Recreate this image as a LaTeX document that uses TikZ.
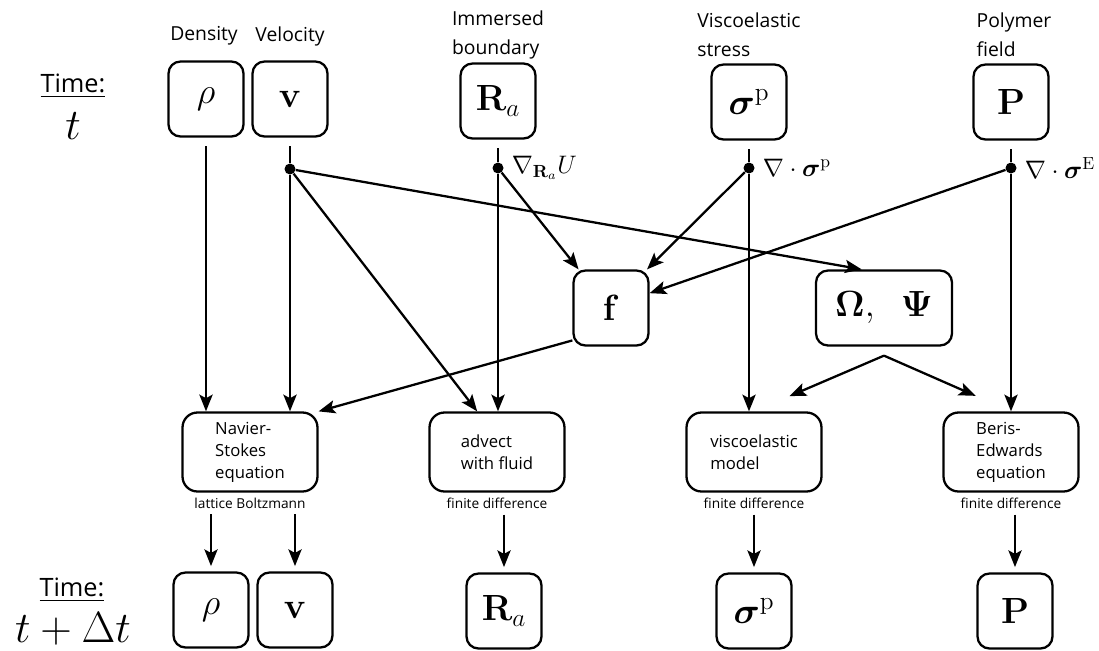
\documentclass[tikz,border=0pt]{standalone}
\usepackage{amsmath}
\usepackage[no-math]{fontspec}
\setsansfont{Open Sans}
\usetikzlibrary{arrows.meta, calc, positioning}

\tikzset{
  varbox/.style={draw, line width=1.3pt, rounded corners=0.24cm, minimum width=1.5cm, minimum height=1.5cm, font=\huge},
  eqbox/.style={draw, line width=1.3pt, rounded corners=0.3cm, minimum width=2.7cm, minimum height=1.58cm,
    font=\sffamily\fontsize{9.5}{12.5}\selectfont, align=left},
  methlbl/.style={font=\sffamily\fontsize{7.8}{8}\selectfont, inner sep=0pt},
  headlbl/.style={font=\sffamily\fontsize{11}{16.5}\selectfont, align=left},
  gradlbl/.style={font=\fontsize{14}{16}\selectfont},
  junc/.style={circle, fill, inner sep=0pt, minimum size=0.22cm},
  link/.style={line width=1.3pt},
  arr/.style={link, -{Stealth[length=9.5pt,width=7.5pt,inset=2pt]}},
}

\begin{document}
\begin{tikzpicture}[x=0.02cm,y=-0.02cm]
    \useasboundingbox (0,0) rectangle (1099,650);
    % time labels
    \node[font=\sffamily\Large] (timeT) at (73,86) {\underline{Time:}};
    \node[font=\Huge] (tT) at (73,126) {$t$};
    \node[font=\sffamily\Large] (timeB) at (72,590) {\underline{Time:}};
    \node[font=\Huge] (tB) at (73,629) {$t+\Delta t$};
    % quantities at time t
    \node[varbox] (rhoT) at (206,99) {$\rho$};
    \node[varbox] (vT) at (290,99) {$\mathbf{v}$};
    \node[varbox] (RT) at (498,101) {$\mathbf{R}_a$};
    \node[varbox] (sT) at (749,102) {$\boldsymbol{\sigma}^{\mathrm{p}}$};
    \node[varbox] (PT) at (1011,102) {$\mathbf{P}$};
    \node[headlbl] (lblRho) at (204,36) {Density};
    \node[headlbl] (lblV) at (290,36) {Velocity};
    \node[headlbl] (lblR) at (498,35) {Immersed\\boundary};
    \node[headlbl] (lblS) at (749,35) {Viscoelastic\\stress};
    \node[headlbl] (lblP) at (1014,35) {Polymer\\field};
    % branching points
    \node[junc] (jv) at (290,169) {};
    \node[junc] (jR) at (498,168) {};
    \node[junc] (js) at (749,168) {};
    \node[junc] (jP) at (1011,168) {};
    \node[gradlbl, right=1pt of jR] (gR) {$\nabla_{\mathbf{R}_a} U$};
    \node[gradlbl, right=1pt of js] (gS) {$\nabla\cdot\boldsymbol{\sigma}^{\mathrm{p}}$};
    \node[gradlbl, right=1pt of jP] (gP) {$\nabla\cdot\boldsymbol{\sigma}^{\mathrm{E}}$};
    % intermediate quantities
    \node[varbox] (f) at (611,308) {$\mathbf{f}$};
    \node[varbox, minimum width=2.72cm] (omg) at (884,308) {$\mathbf{\Omega},\;\;\mathbf{\Psi}$};
    % update steps
    \node[eqbox] (ns) at (250,452) {Navier-\\Stokes\\equation};
    \node[eqbox] (adv) at (497,452) {advect\\with fluid};
    \node[eqbox] (vis) at (754,452) {viscoelastic\\model};
    \node[eqbox] (ber) at (1011,452) {Beris-\\Edwards\\equation};
    \node[methlbl, below=3pt of ns] (lbns) {lattice Boltzmann};
    \node[methlbl, below=3pt of adv] (lbadv) {finite difference};
    \node[methlbl, below=3pt of vis] (lbvis) {finite difference};
    \node[methlbl, below=3pt of ber] (lbber) {finite difference};
    % quantities at time t + dt
    \node[varbox] (rhoB) at (211,610) {$\rho$};
    \node[varbox] (vB) at (295,610) {$\mathbf{v}$};
    \node[varbox] (RB) at (504,611) {$\mathbf{R}_a$};
    \node[varbox] (sB) at (754,611) {$\boldsymbol{\sigma}^{\mathrm{p}}$};
    \node[varbox] (PB) at (1015,611) {$\mathbf{P}$};

    \foreach \b/\j in {vT/jv, RT/jR, sT/js, PT/jP}
      \draw[link, shorten <=5pt] (\b) -- (\j);
    \draw[arr, shorten <=5pt] (rhoT) -- (rhoT |- ns.north);
    \draw[arr] (jv) -- (jv |- ns.north);
    \draw[arr] (jv) -- (adv.116);
    \draw[arr] (jv) -- (omg.120);
    \draw[arr] (jR) -- (jR |- adv.north);
    \draw[arr] (jR) -- (f.130);
    \draw[arr] (js) -- (f.47);
    \draw[arr] (js) -- (js |- vis.north);
    \draw[arr] (jP) -- (f.21);
    \draw[arr] (jP) -- (jP |- ber.north);
    \draw[arr] (f.220) -- (ns.north east);
    \coordinate (split) at ($(omg.south)+(0,9)$);
    \draw[arr, shorten >=22pt] (split) -- (vis.north);
    \draw[arr, shorten >=22pt] (split) -- (ber.north);
    \foreach \m/\b in {lbns/rhoB, lbns/vB, lbadv/RB, lbvis/sB, lbber/PB}
      \draw[arr, shorten <=3pt, shorten >=3pt] (\m.south -| \b) -- (\b);
\end{tikzpicture}
\end{document}
